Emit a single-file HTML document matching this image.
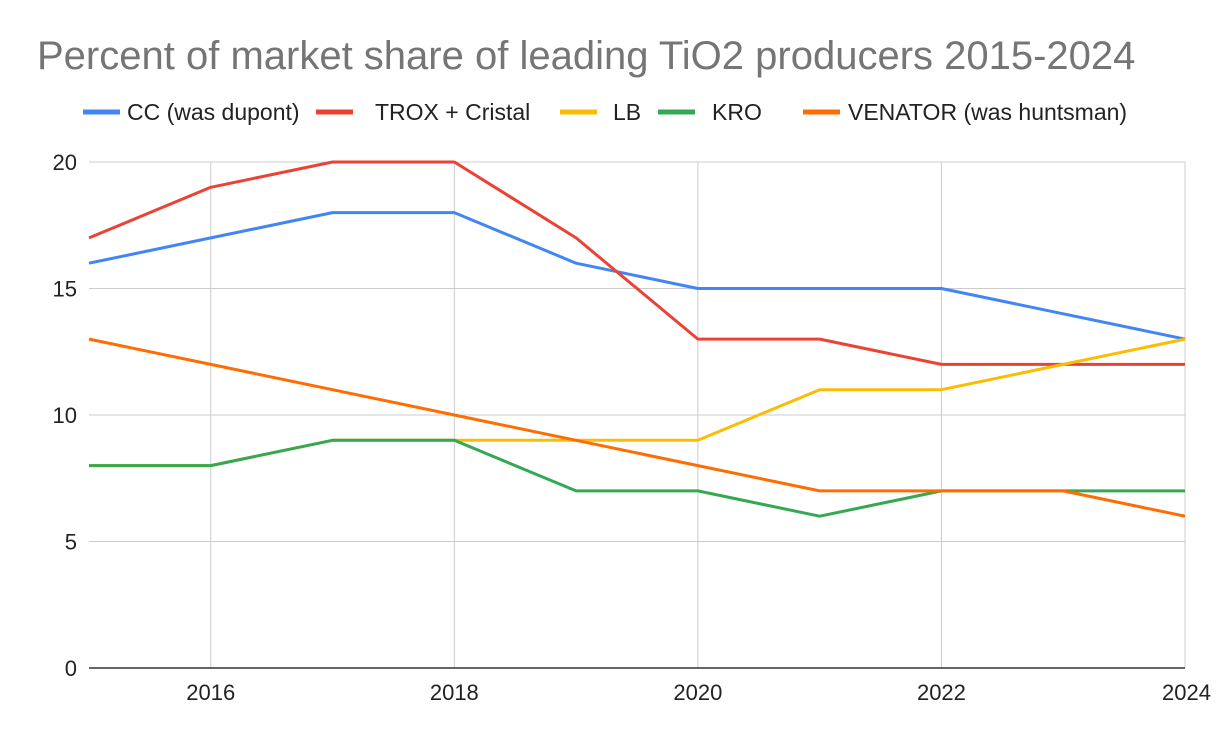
<!DOCTYPE html>
<html><head><meta charset="utf-8"><style>
body{margin:0;background:#fff;}
svg{display:block;font-family:"Liberation Sans",Arial,sans-serif;}
</style></head><body>
<svg id="chart" width="1222" height="742">
<text x="37" y="69" font-size="40" fill="#757575">Percent of market share of leading TiO2 producers 2015-2024</text>
<g id="grid"></g><g id="lines"></g><g id="legend"></g><g id="axes"></g>
</svg>
<script>
const years=[2015,2016,2017,2018,2019,2020,2021,2022,2023,2024];
const seriesNames=["CC (was dupont)","TROX + Cristal","LB","KRO","VENATOR (was huntsman)"];
const seriesColors=["#4285f4","#ea4335","#fbbc04","#34a853","#ff6d01"];
const cc=[16,17,18,18,16,15,15,15,14,13];
const trox=[17,19,20,20,17,13,13,12,12,12];
const lb=[8,8,9,9,9,9,11,11,12,13];
const kro=[8,8,9,9,7,7,6,7,7,7];
const venator=[13,12,11,10,9,8,7,7,7,6];
const yTicks=[0,5,10,15,20];
const xTicks=[2016,2018,2020,2022,2024];
const allSeries=[cc,trox,lb,kro,venator];
const NS="http://www.w3.org/2000/svg";
const x=v=>89+(v-2015)*(1096/9);
const y=v=>668-v*25.3;
function mk(t,a,p){const e=document.createElementNS(NS,t);for(const k in a)e.setAttribute(k,a[k]);p.appendChild(e);return e;}
const grid=document.getElementById('grid'),lines=document.getElementById('lines'),legend=document.getElementById('legend'),axes=document.getElementById('axes');
yTicks.forEach(v=>{
 if(v>0){const l=mk('line',{x1:89,x2:1185,y1:y(v),y2:y(v),stroke:'#cccccc','stroke-width':1},grid);
 
 }
 const t=mk('text',{x:77,y:y(v)+8,'text-anchor':'end','font-size':22,fill:'#222'},axes);t.textContent=v;
 
 
});
xTicks.forEach(v=>{
 const l=mk('line',{x1:x(v),x2:x(v),y1:162,y2:668,stroke:'#cccccc','stroke-width':1},grid);
 
 
 const t=mk('text',{x:x(v),y:700,'text-anchor':v===2024?'end':'middle','font-size':22,fill:'#222'},axes);t.textContent=v;
 if(v===2024)t.setAttribute('x',1211);
 
 
});
const base=mk('line',{x1:89,x2:1185,y1:668,y2:668,stroke:'#333','stroke-width':1.5},axes);


allSeries.forEach((s,i)=>{
 const p=mk('polyline',{points:s.map((v,j)=>x(years[j])+','+y(v)).join(' '),fill:'none',stroke:seriesColors[i],'stroke-width':3,'stroke-linejoin':'round'},lines);
 
 
});
const lx=[83,316,560,658,803];
const tx=[127,375,613,712,848];
seriesNames.forEach((n,i)=>{
 const g=mk('g',{},legend);
 
 
 mk('line',{x1:lx[i],x2:lx[i]+37,y1:112,y2:112,stroke:seriesColors[i],'stroke-width':5},g);
 const t=mk('text',{x:tx[i],y:120,'font-size':23,fill:'#222'},g);t.textContent=n;
});
</script>
</body></html>
